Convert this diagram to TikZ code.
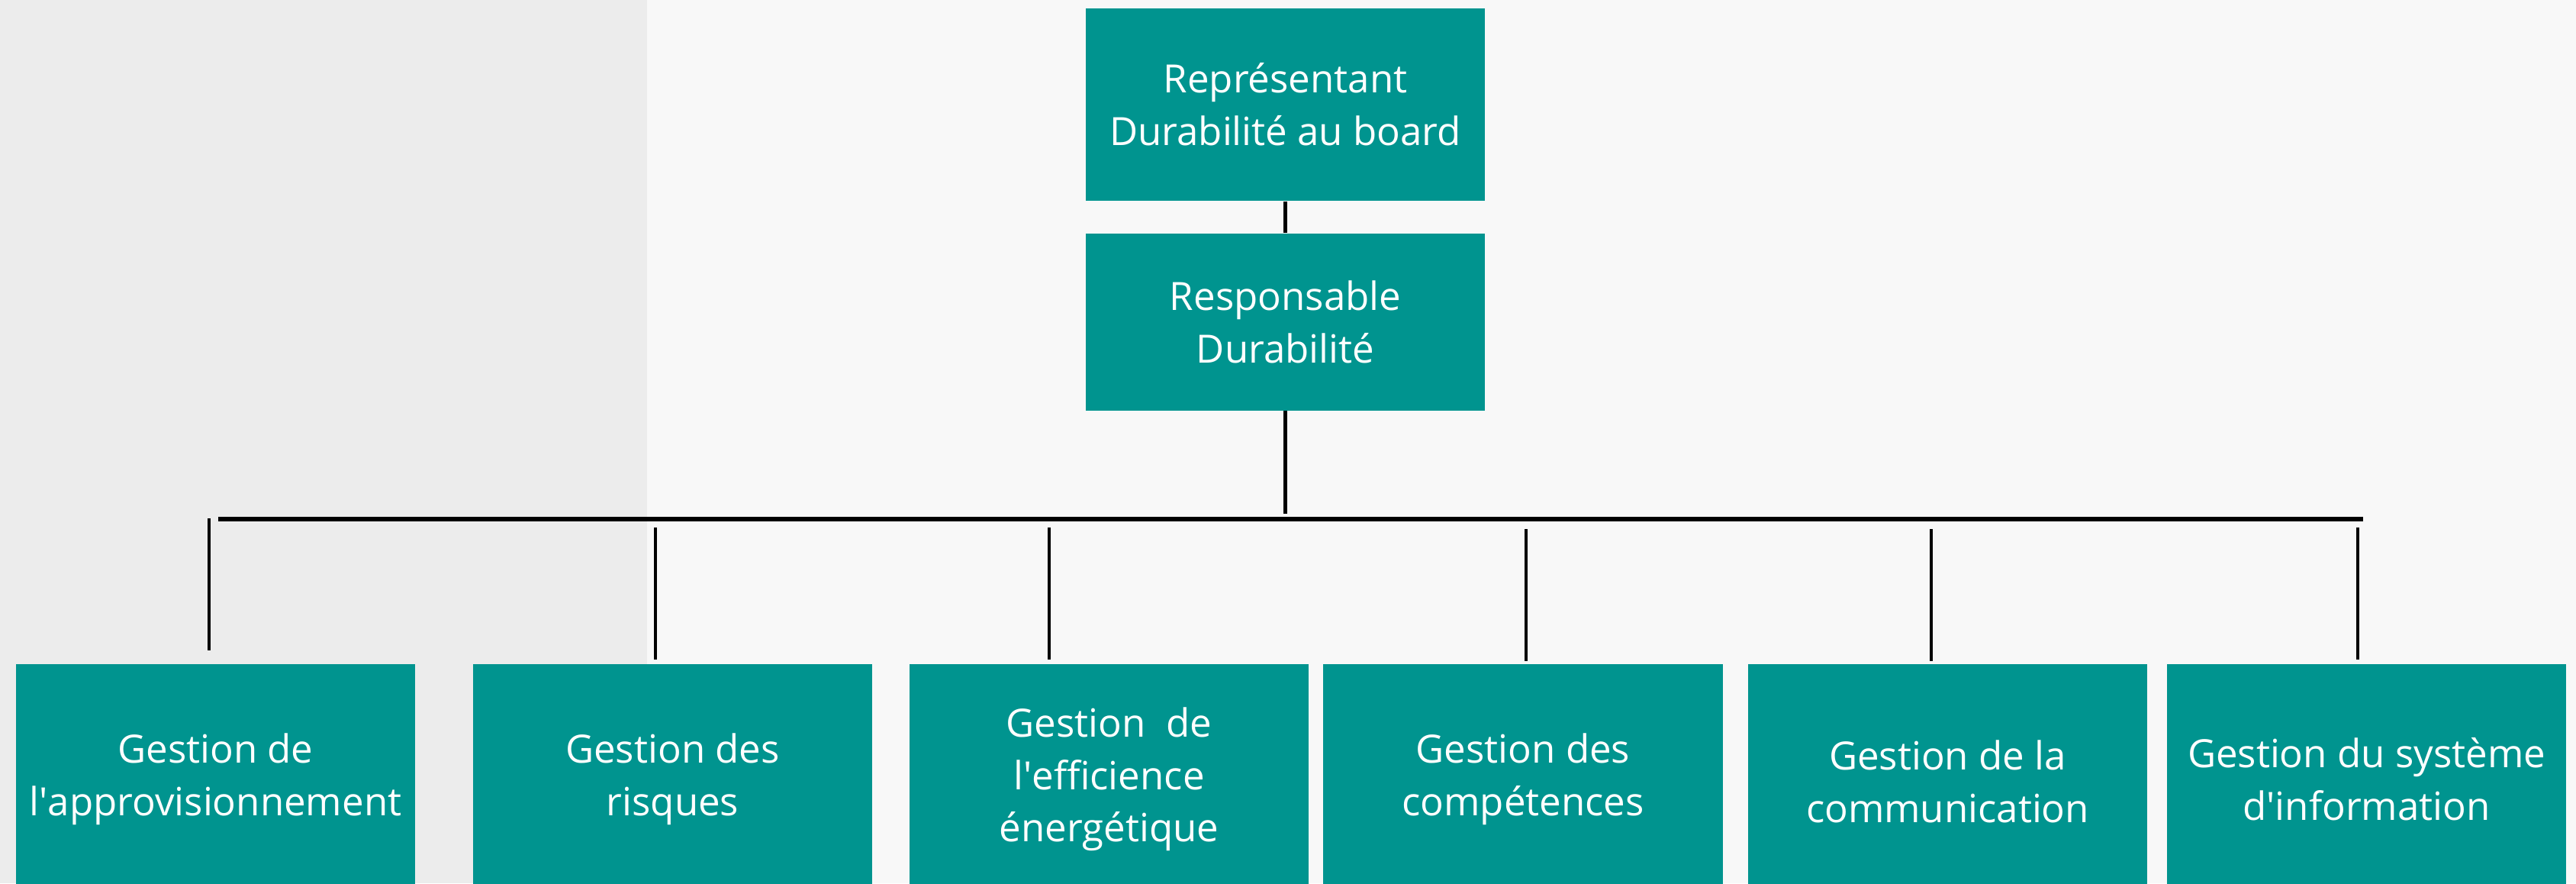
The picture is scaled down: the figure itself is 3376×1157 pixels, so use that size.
\documentclass[tikz,border=0pt]{standalone}
\usepackage{fontspec}
\setmainfont{Open Sans}
\usetikzlibrary{positioning}

\definecolor{durteal}{HTML}{00948F}
\definecolor{panelleft}{HTML}{ECECEC}
\definecolor{panelright}{HTML}{F8F8F8}

\tikzset{
  box/.style={fill=durteal, text=white, inner sep=0pt, align=center,
    minimum width=5.23cm, font=\fontsize{14.5}{19.6}\selectfont},
  bus/.style={line width=1.5pt},
  tie/.style={line width=1.3pt}
}
\newcommand{\q}{\textquotesingle}

\begin{document}
\begin{tikzpicture}[x=0.01cm,y=-0.01cm]
  \useasboundingbox (0,0) rectangle (3376,1157);
  % background panels
  \fill[panelright] (0,0) rectangle (3376,1157);
  \fill[panelleft] (0,0) rectangle (848,1157);

  % top of the chart
  \node[box, minimum height=2.52cm] (rep) at (1684.5,137) {Représentant\\Durabilité au board};
  \node[box, minimum height=2.32cm, below=0.41cm of rep] (resp) {Responsable\\ Durabilité};

  % teams
  \def\ytop{869}
  \node[box, anchor=north, minimum height=3.02cm] (appro) at (282.5,\ytop) {Gestion de\\l\q approvisionnement};
  \node[box, anchor=north, minimum height=3.02cm] (risques) at (881.5,\ytop) {Gestion des\\risques};
  \node[box, anchor=north, minimum height=3.02cm] (energie) at (1453.5,\ytop) {Gestion~~de\\l\q efficience\\énergétique};
  \node[box, anchor=north, minimum height=3.02cm] (competences) at (1996,\ytop) {Gestion des\\compétences};
  \node[box, anchor=north, minimum height=3.08cm] (comm) at (2552.5,\ytop) {Gestion de la\\communication};
  \node[box, anchor=north, minimum height=3.02cm] (si) at (3101.5,\ytop) {Gestion du système\\d\q information};

  % links
  \coordinate (busw) at (286,680);
  \coordinate (buse) at (3097,680);
  \coordinate (hub) at (1686,673);
  \draw[tie] (rep) -- (resp);
  \draw[tie] (resp) -- (resp.south |- hub);
  \draw[bus] (busw) -- (buse);
  \foreach \n/\x/\y/\gap in {appro/274/679/17, risques/859/691/5, energie/1375/691/5,
      competences/2000/693/3, comm/2531/693/3, si/3090/691/5} {
    \coordinate (d-\n) at (\x,\y);
    \draw[tie, shorten >=\gap*0.01cm] (d-\n) -- (d-\n |- \n.north);
  }
\end{tikzpicture}
\end{document}
